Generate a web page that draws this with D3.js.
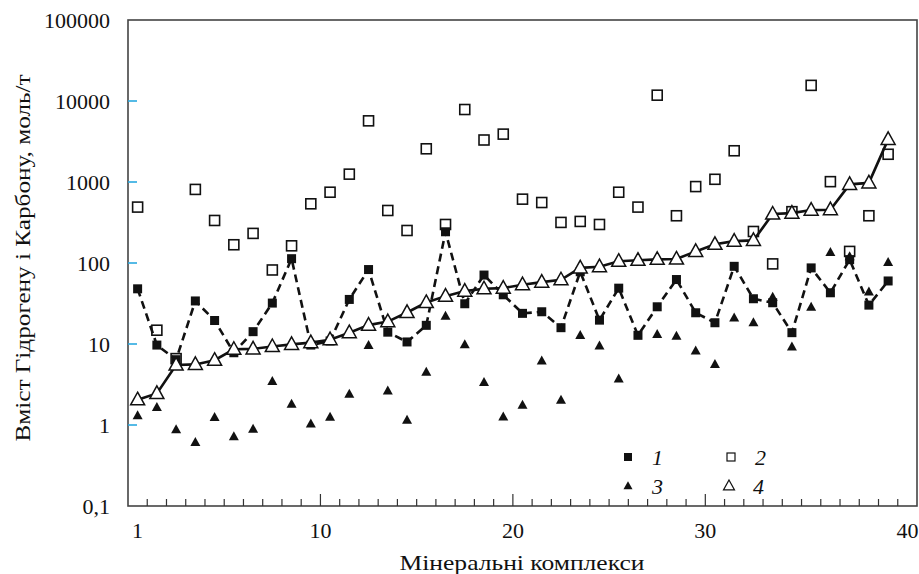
<!DOCTYPE html>
<html><head><meta charset="utf-8">
<script src="https://cdn.jsdelivr.net/npm/d3@7"></script>
<style>body{margin:0;background:#fff}svg{display:block}</style>
</head><body>
<svg id="chart" width="919" height="574"></svg>
<script>
const categories = [1,2,3,4,5,6,7,8,9,10,11,12,13,14,15,16,17,18,19,20,21,22,23,24,25,26,27,28,29,30,31,32,33,34,35,36,37,38,39,40];
const series1 = [48,9.7,6.4,34,19.5,7.8,14.2,32,113,9.7,10.9,35.5,83,14,10.6,17,243,31.4,71,40.5,23.9,25,15.9,78,19.7,48.9,12.8,28.8,62.5,24.3,18.3,91,36.2,32.3,13.8,87,42.9,110,30.2,60];
const series2 = [490,14.8,6.6,810,335,168,232,82,163,538,748,1250,5690,445,252,2570,299,7850,3300,3900,614,558,317,326,299,748,490,11800,383,878,1080,2430,245,97.5,430,15600,1010,139,383,2200];
const series3 = [1.3,1.65,0.875,0.61,1.24,0.72,0.89,3.45,1.81,1.03,1.25,2.4,9.6,2.64,1.15,4.5,22,9.8,3.35,1.26,1.76,6.2,2.03,12.8,9.5,3.7,null,13.1,12.5,8.2,5.6,21,18.3,38,9.2,28.5,135,120,44,102];
const series4 = [2.05,2.45,5.5,5.6,6.3,8.6,8.7,9.3,9.9,10.4,11.3,13.8,17.1,18.9,24.5,32.5,39,45,48,49,54,58,62,87,90,105,108,111,112,139,170,186,190,402,413,450,455,935,975,3360];
const yTicks = [100000,10000,1000,100,10,1,0.1];
const yTickLabels = ["100000","10000","1000","100","10","1","0,1"];
const xTickLabels = ["1","10","20","30","40"];
const xTickLabelPos = [1,10.5,20.5,30.5,41];
const legendLabels = ["1","2","3","4"];
const yTitle = "Вміст Гідрогену і Карбону, моль/т";
const xTitle = "Мінеральні комплекси";

const FONT = "'Liberation Serif', 'DejaVu Serif', 'Times New Roman', serif";
const svg = d3.select("#chart");
const L=128, R=917, T=20, B=506;
const x = d3.scaleLinear().domain([0.5,41.5]).range([L,R]);
const y = d3.scaleLog().domain([0.1,100000]).range([B,T]);

// frame
svg.append("rect").attr("x",L).attr("y",T).attr("width",R-L).attr("height",B-T)
  .attr("fill","none").attr("stroke","#444").attr("stroke-width",1.6);

// y cyan inner ticks
svg.selectAll(".yt").data(yTicks.filter(v=>v>0.1&&v<100000)).enter().append("line")
  .attr("x1",L).attr("x2",L+9).attr("y1",d=>y(d)).attr("y2",d=>y(d))
  .attr("stroke","#2aa9e0").attr("stroke-width",1.6);
svg.selectAll(".yl").data(yTicks).enter().append("text")
  .attr("font-family",FONT).attr("fill","#111")
  .attr("x",110).attr("y",d=>y(d)).attr("dy","0.35em").attr("text-anchor","end")
  .attr("font-size",22).text((d,i)=>yTickLabels[i]);

// x ticks (category boundaries)
const bounds = d3.range(1.5,41,1);
svg.selectAll(".xt").data(bounds).enter().append("line")
  .attr("x1",d=>x(d)).attr("x2",d=>x(d)).attr("y1",B)
  .attr("y2",d=>[10.5,20.5,30.5].includes(d)?B-12:B-7)
  .attr("stroke","#333").attr("stroke-width",1.2);
svg.selectAll(".xl").data(xTickLabels).enter().append("text")
  .attr("font-family",FONT).attr("fill","#111")
  .attr("x",(d,i)=>x(xTickLabelPos[i])).attr("y",538).attr("text-anchor","middle")
  .attr("font-size",22).text(d=>d);

// titles
svg.append("text").attr("font-family",FONT).attr("fill","#111")
  .attr("transform","translate(30,258) rotate(-90)").attr("text-anchor","middle")
  .attr("font-size",22).attr("textLength",367).attr("lengthAdjust","spacingAndGlyphs").text(yTitle);
svg.append("text").attr("font-family",FONT).attr("fill","#111")
  .attr("x",522).attr("y",570).attr("text-anchor","middle")
  .attr("font-size",22).attr("textLength",245).attr("lengthAdjust","spacingAndGlyphs").text(xTitle);

const pts = arr => categories.map((c,i)=>({c,v:arr[i]})).filter(d=>d.v!=null);
const tri = (cx,cy,s)=>{const h=s*0.9;return `M${cx},${cy-h*0.6}L${cx+s/2},${cy+h*0.4}L${cx-s/2},${cy+h*0.4}Z`;};

// series 2 open squares
svg.append("g").selectAll("rect").data(pts(series2)).enter().append("rect")
  .attr("x",d=>x(d.c)-5).attr("y",d=>y(d.v)-5).attr("width",10).attr("height",10)
  .attr("fill","#fff").attr("stroke","#111").attr("stroke-width",1.6);
// series 3 filled triangles
svg.append("g").selectAll("path").data(pts(series3)).enter().append("path")
  .attr("d",d=>tri(x(d.c),y(d.v),10)).attr("fill","#111");
// series 1 dashed line + filled squares
const line = d3.line().x(d=>x(d.c)).y(d=>y(d.v));
svg.append("path").datum(pts(series1)).attr("d",line).attr("fill","none")
  .attr("stroke","#111").attr("stroke-width",2.6).attr("stroke-dasharray","8,5");
svg.append("g").selectAll("rect").data(pts(series1)).enter().append("rect")
  .attr("x",d=>x(d.c)-4.5).attr("y",d=>y(d.v)-4.5).attr("width",9).attr("height",9)
  .attr("fill","#111");
// series 4 solid line + open triangles
svg.append("path").datum(pts(series4)).attr("d",line).attr("fill","none")
  .attr("stroke","#111").attr("stroke-width",2.6);
svg.append("g").selectAll("path").data(pts(series4)).enter().append("path")
  .attr("d",d=>tri(x(d.c),y(d.v),14)).attr("fill","#fff").attr("stroke","#111").attr("stroke-width",1.5);

// legend
const lg = svg.append("g");
const lpos = [[628,457],[731,457],[628,486],[729,486]];
lg.append("rect").attr("x",lpos[0][0]-4).attr("y",lpos[0][1]-4).attr("width",8).attr("height",8).attr("fill","#111");
lg.append("rect").attr("x",lpos[1][0]-4).attr("y",lpos[1][1]-4).attr("width",8).attr("height",8).attr("fill","#fff").attr("stroke","#111").attr("stroke-width",1.2);
lg.append("path").attr("d",tri(lpos[2][0],lpos[2][1],9)).attr("fill","#111");
lg.append("path").attr("d",tri(lpos[3][0],lpos[3][1],11)).attr("fill","#fff").attr("stroke","#111").attr("stroke-width",1.2);
lg.selectAll("text").data(legendLabels).enter().append("text")
  .attr("font-family",FONT).attr("fill","#111")
  .attr("x",(d,i)=>lpos[i][0]+24).attr("y",(d,i)=>lpos[i][1]).attr("dy","0.35em")
  .attr("font-size",22).attr("font-style","italic").text(d=>d);
</script>
</body></html>
